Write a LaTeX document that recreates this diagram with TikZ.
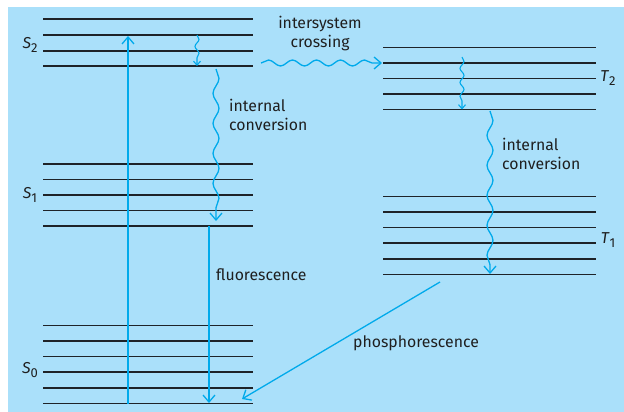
\documentclass[tikz,border=0pt]{standalone}
\usepackage{fontspec}
\setmainfont{Fira Sans}
\usetikzlibrary{positioning,calc}
\usetikzlibrary{arrows.meta,decorations.pathmorphing}
\definecolor{PaleSky}{RGB}{170,224,250}
\definecolor{JabCyan}{RGB}{0,170,235}
\definecolor{LevelGray}{RGB}{30,35,40}
\tikzset{
  level/.style={draw=LevelGray,line width=1.2pt},
  trans/.style={draw=JabCyan,line width=1.3pt,-{Straight Barb[length=7pt,width=12pt]}},
  small/.style={draw=JabCyan,line width=1.1pt,-{Straight Barb[length=4pt,width=7pt]}},
  wiggle/.style={decorate,decoration={snake,amplitude=3pt,segment length=30pt,post length=6pt}},
  wiggles/.style={decorate,decoration={snake,amplitude=2pt,segment length=14pt,post length=4pt}},
  txt/.style={font=\fontsize{15.8}{19}\selectfont,text=black!88,inner sep=0pt},
}
\newcommand{\state}[2]{\textit{#1}\raisebox{-0.45ex}{\fontsize{13}{13}\selectfont #2}}

\begin{document}
\begin{tikzpicture}[x=1pt,y=-1pt]
\useasboundingbox (0,0) rectangle (624,412);
\fill[PaleSky] (8,7) rectangle (624,412);
% singlet levels
\foreach \y [count=\i] in {19,35,51,66}
  \draw[level] (43,\y) coordinate (s2l\i) -- (253,\y) coordinate (s2r\i);
\foreach \y [count=\i] in {164,179.5,195,210.5,226}
  \draw[level] (43,\y) coordinate (s1l\i) -- (253,\y) coordinate (s1r\i);
\foreach \y [count=\i] in {325.5,341,356.5,372,388,403.5}
  \draw[level] (43,\y) coordinate (s0l\i) -- (253,\y) coordinate (s0r\i);
% triplet levels
\foreach \y [count=\i] in {47.5,63,78.5,94,109.5}
  \draw[level] (383,\y) coordinate (t2l\i) -- (596,\y) coordinate (t2r\i);
\foreach \y [count=\i] in {196.5,212,227.5,243,259,274.5}
  \draw[level] (383,\y) coordinate (t1l\i) -- (596,\y) coordinate (t1r\i);
% labels
\node[txt] (s2) at (30,45) {\state{S}{2}};
\node[txt] (s1) at (30,195) {\state{S}{1}};
\node[txt] (s0) at (30,370) {\state{S}{0}};
\node[txt] (t2) at (608,78) {\state{T}{2}};
\node[txt] (t1) at (608,240) {\state{T}{1}};
% transitions
\coordinate (exbot) at (128,403.5);
\coordinate (extop) at (128,36);
\draw[trans] (exbot) -- (extop);
\coordinate (vra) at (197,35);
\coordinate (vrb) at (197,66);
\draw[small,wiggles] (vra) -- (vrb);
\coordinate (ica) at (216,69);
\coordinate (icb) at (216,221);
\draw[trans,wiggle] (ica) -- (icb);
\coordinate (fla) at (209,226);
\coordinate (flb) at (209,403);
\draw[trans] (fla) -- (flb);
\coordinate (isa) at (261,63);
\coordinate (isb) at (382,63);
\draw[trans,wiggle,decoration={segment length=24pt}] (isa) -- (isb);
\coordinate (vta) at (462,57);
\coordinate (vtb) at (462,109.5);
\draw[small,wiggles] (vta) -- (vtb);
\coordinate (itca) at (490,111);
\coordinate (itcb) at (490,274);
\draw[trans,wiggle] (itca) -- (itcb);
\coordinate (pha) at (440,282);
\coordinate (phb) at (242,399);
\draw[trans] (pha) -- (phb);
% texts
\node[txt,align=center] (isc) at (320,34) {intersystem\\crossing};
\node[txt,align=left,anchor=west] (ic1) at (229,115) {internal\\conversion};
\node[txt,align=left,anchor=west] (ic2) at (502,154) {internal\\conversion};
\node[txt,anchor=west] (fl) at (216,275) {fluorescence};
\node[txt] (ph) at (416,343) {phosphorescence};
\end{tikzpicture}
\end{document}
